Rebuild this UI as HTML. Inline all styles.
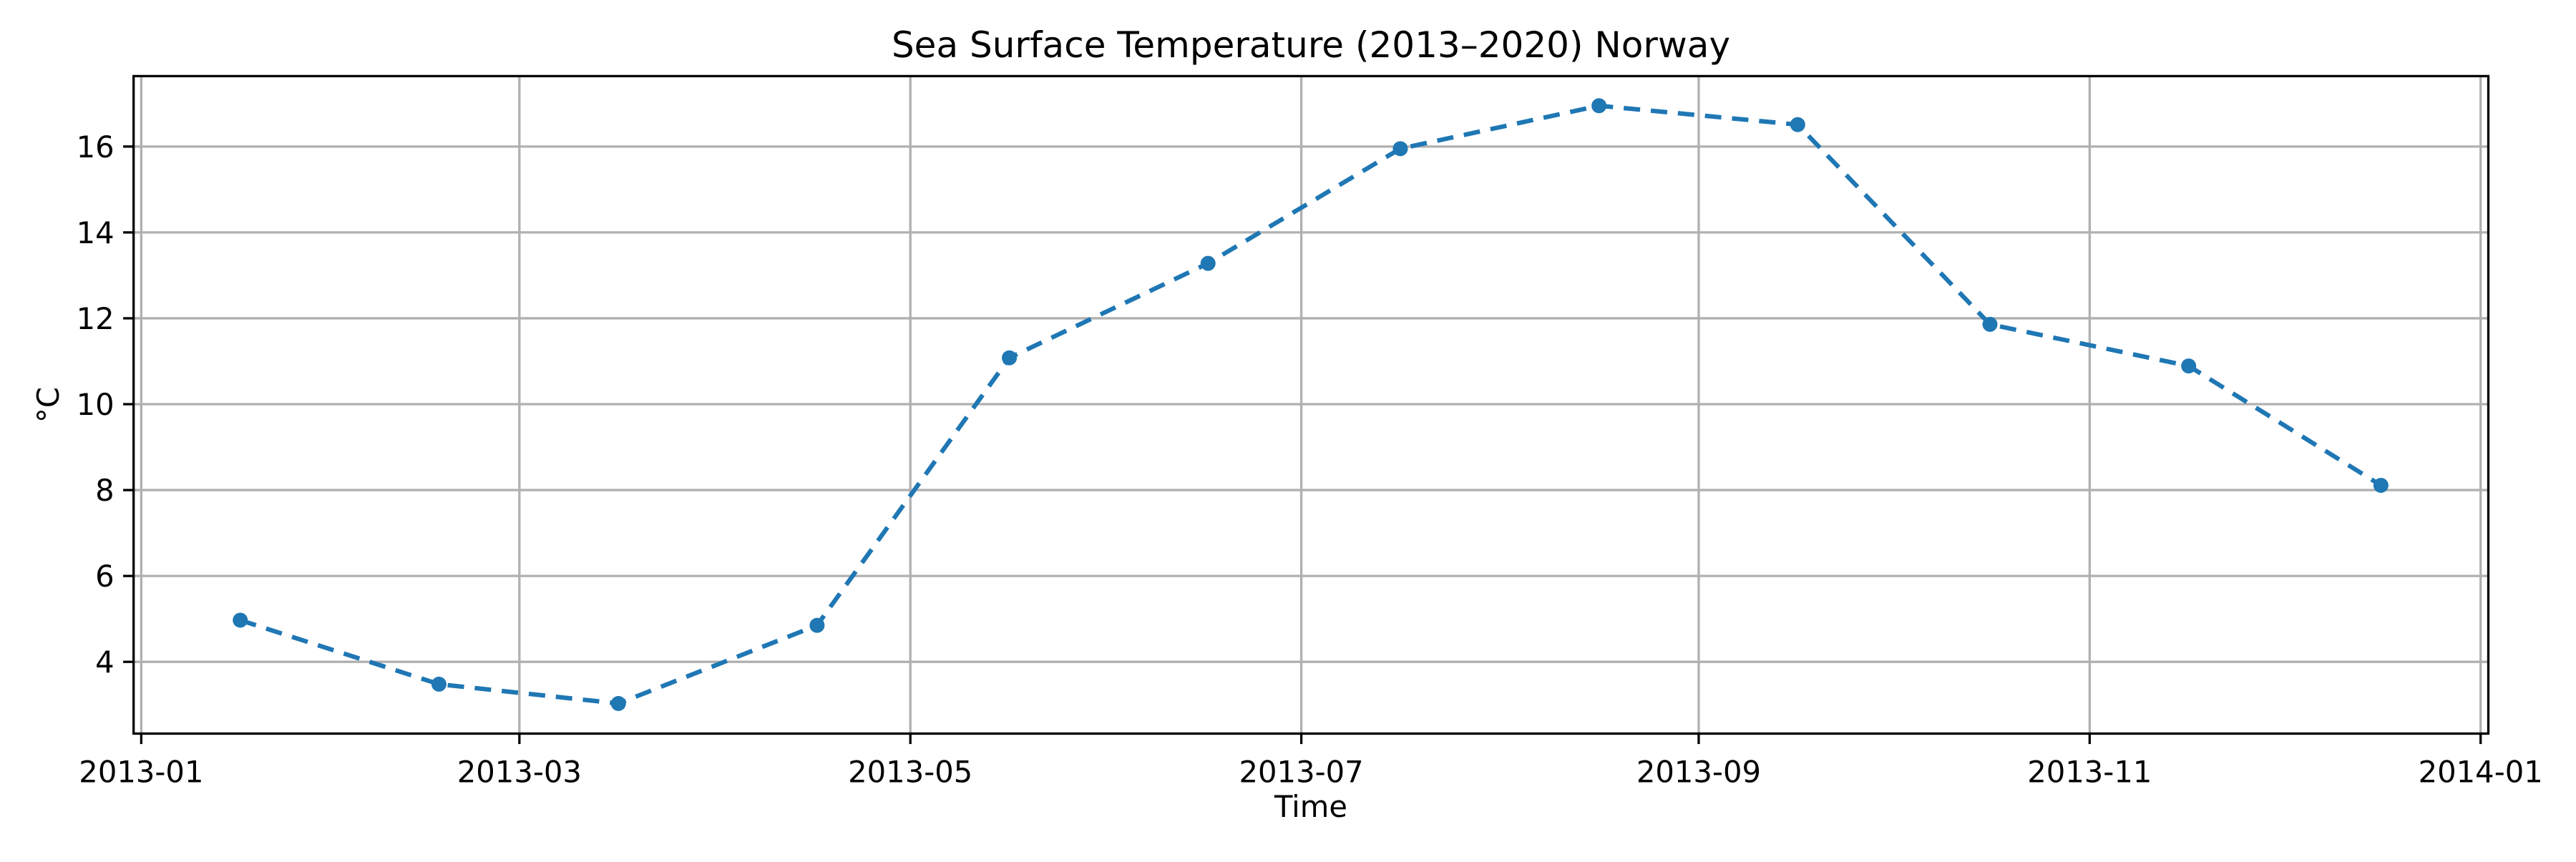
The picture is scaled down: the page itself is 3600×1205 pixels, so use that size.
<!DOCTYPE html>
<html><head><meta charset="utf-8"><style>
html,body{margin:0;padding:0;background:#fff;}
svg text{font-family:"DejaVu Sans","Liberation Sans",sans-serif;fill:#000;}
</style></head><body>
<svg id="chart" width="3600" height="1200" xmlns="http://www.w3.org/2000/svg">
<rect width="3600" height="1200" fill="#fff"/>
<g id="grid"></g>
<g id="series"></g>
<rect x="186.7" y="106.4" width="3290.8" height="919.1" fill="none" stroke="#000" stroke-width="3.3"/>
<g id="axes"></g>
<text x="1832" y="80" font-size="50" text-anchor="middle">Sea Surface Temperature (2013–2020) Norway</text>
<text x="1832" y="1142" font-size="41.7" text-anchor="middle">Time</text>
<text transform="translate(82,566) rotate(-90)" font-size="41.7" text-anchor="middle">°C</text>
</svg>
<script>
const dates = ["2013-01-16","2013-02-16","2013-03-16","2013-04-16","2013-05-16","2013-06-16","2013-07-16","2013-08-16","2013-09-16","2013-10-16","2013-11-16","2013-12-16"];
const temps = [4.97, 3.48, 3.03, 4.85, 11.08, 13.28, 15.95, 16.95, 16.51, 11.86, 10.89, 8.11];
const xTickLabels = ["2013-01","2013-03","2013-05","2013-07","2013-09","2013-11","2014-01"];
const yTicks = [4, 6, 8, 10, 12, 14, 16];

const NS = "http://www.w3.org/2000/svg";
const L = 186.7, R = 3477.5, T = 106.4, B = 1025.5;
const t0 = Date.UTC(2013,0,1), pxPerDay = 8.957, x0 = 197.4;
function xScale(s){const p=s.split("-").map(Number);const t=Date.UTC(p[0],p[1]-1,p[2]||1);return x0+(t-t0)/86400000*pxPerDay+4;}
function yScale(v){return 925.2-(v-4)*60.03;}
function mk(tag,attrs,parent){const e=document.createElementNS(NS,tag);for(const k in attrs)e.setAttribute(k,attrs[k]);parent.appendChild(e);return e;}
const grid=document.getElementById("grid"), axes=document.getElementById("axes"), series=document.getElementById("series");

xTickLabels.forEach(lbl=>{
  const x=xScale(lbl)-4;
  const g=mk("line",{x1:x,x2:x,y1:T,y2:B,stroke:"#b0b0b0","stroke-width":3.3},grid);
  
  
  const tk=mk("line",{x1:x,x2:x,y1:B,y2:B+14.6,stroke:"#000","stroke-width":3.3},axes);
  
  
  const tx=mk("text",{x:x,y:B+68,"font-size":41.7,"text-anchor":"middle"},axes);
  tx.textContent=lbl;
  
  
});
yTicks.forEach(v=>{
  const y=yScale(v);
  const g=mk("line",{x1:L,x2:R,y1:y,y2:y,stroke:"#b0b0b0","stroke-width":3.3},grid);
  
  
  const tk=mk("line",{x1:L-14.6,x2:L,y1:y,y2:y,stroke:"#000","stroke-width":3.3},axes);
  
  
  const tx=mk("text",{x:L-27,y:y+15,"font-size":41.7,"text-anchor":"end"},axes);
  tx.textContent=String(v);
  
  
});
const pts=dates.map((d,i)=>xScale(d)+","+yScale(temps[i])).join(" ");
const line=mk("polyline",{points:pts,fill:"none",stroke:"#1f77b4","stroke-width":6.25,"stroke-dasharray":"23 15"},series);


dates.forEach((d,i)=>{
  const c=mk("circle",{cx:xScale(d),cy:yScale(temps[i]),r:10.5,fill:"#1f77b4"},series);
  
  
});
</script>
</body></html>
